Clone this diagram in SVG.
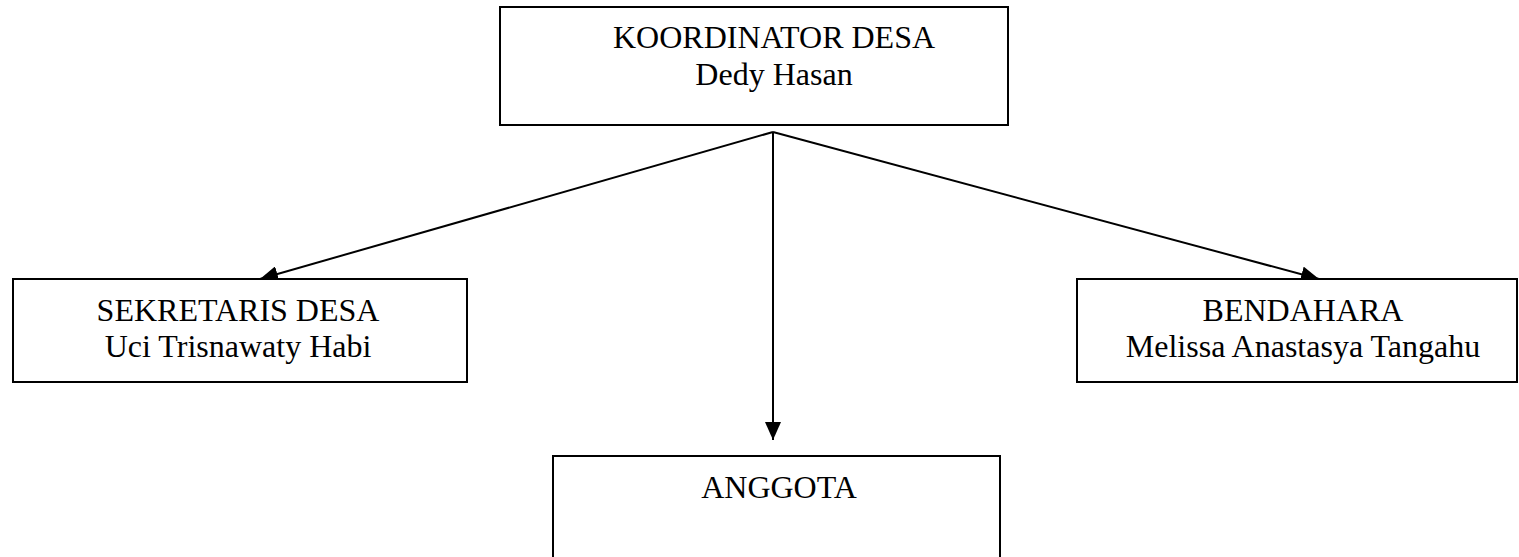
<svg xmlns="http://www.w3.org/2000/svg" width="1519" height="557" viewBox="0 0 1519 557">
<style>
.box{fill:#fff;stroke:#000;stroke-width:2}
.t{font-family:"Liberation Serif","Times New Roman",serif;font-size:32px;fill:#000;text-anchor:middle}
.c{stroke:#000;stroke-width:2;fill:none}
</style>
<defs>
<marker id="ah" markerUnits="userSpaceOnUse" markerWidth="18" markerHeight="16" viewBox="0 0 18 16" refX="18" refY="8" orient="auto">
<path d="M0,0 L18,8 L0,16 Z" fill="#000"/>
</marker>
</defs>
<rect width="1519" height="557" fill="#fff"/>
<g id="connectors">
<line class="c" x1="773" y1="132" x2="260" y2="279" marker-end="url(#ah)"/>
<line class="c" x1="773" y1="132" x2="773" y2="440" marker-end="url(#ah)"/>
<line class="c" x1="773" y1="132" x2="1319" y2="279" marker-end="url(#ah)"/>
</g>
<g id="koordinator">
<rect class="box" x="500" y="7" width="508" height="118"/>
<text class="t" x="774" y="48">KOORDINATOR DESA</text>
<text class="t" x="774" y="85">Dedy Hasan</text>
</g>
<g id="sekretaris">
<rect class="box" x="13" y="279" width="454" height="103"/>
<text class="t" x="238" y="321">SEKRETARIS DESA</text>
<text class="t" x="238" y="357">Uci Trisnawaty Habi</text>
</g>
<g id="bendahara">
<rect class="box" x="1077" y="279" width="440" height="103"/>
<text class="t" x="1303" y="321">BENDAHARA</text>
<text class="t" x="1303" y="357">Melissa Anastasya Tangahu</text>
</g>
<g id="anggota">
<rect class="box" x="553" y="456" width="447" height="130"/>
<text class="t" x="779" y="498">ANGGOTA</text>
</g>
</svg>
